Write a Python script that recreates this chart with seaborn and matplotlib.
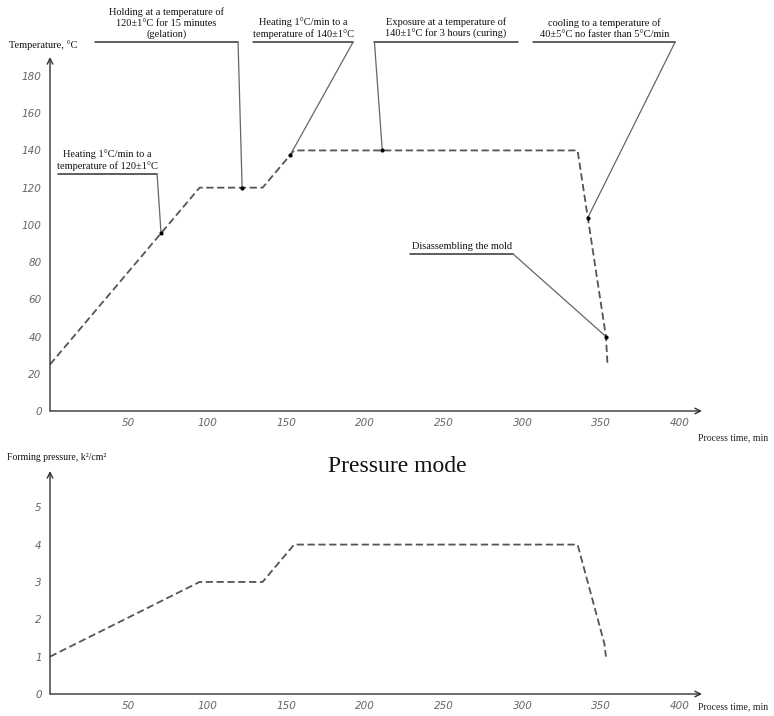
import numpy as np
import pandas as pd
import seaborn as sns
import matplotlib.pyplot as plt

# Temperature mode (time in min, temperature in degC)
temp_time = [0, 95, 135, 155, 335, 353, 354]
temp_vals = [25, 120, 120, 140, 140, 40, 25]

# Pressure mode (time in min, pressure)
pres_time = [0, 95, 135, 155, 335, 352, 353]
pres_vals = [1, 3, 3, 4, 4, 1.35, 1]

x_ticks = [50, 100, 150, 200, 250, 300, 350, 400]
temp_ticks = [0, 20, 40, 60, 80, 100, 120, 140, 160, 180]
pres_ticks = [0, 1, 2, 3, 4, 5]

# callouts: text, underline from x0 to x1 (min) at level y, leader to curve at time t
notes = [
    ("Holding at a temperature of\n120±1°C for 15 minutes\n(gelation)", 28.6, 119.4, 198.3, 122, "right"),
    ("Heating 1°C/min to a\ntemperature of 140±1°C", 129, 192.5, 198.3, 152.5, "right"),
    ("Exposure at a temperature of\n140±1°C for 3 hours (curing)", 206, 297, 198.3, 211, "left"),
    ("cooling to a temperature of\n40±5°C no faster than 5°C/min", 307, 397, 198.3, 341.5, "right"),
    ("Disassembling the mold", 228.7, 294, 84.4, 353, "right"),
    ("Heating 1°C/min to a\ntemperature of 120±1°C", 5, 68, 127.4, 70.5, "right"),
]

sns.set_style("white")
plt.rcParams['font.family'] = ['Liberation Serif', 'DejaVu Serif']

tick_font = dict(family=['Liberation Sans Narrow', 'DejaVu Sans'], style='italic', size=7.5, color='#666666')
line_col = '#555555'
axis_col = '#333333'

df_t = pd.DataFrame({'time': temp_time, 'temp': temp_vals})
df_p = pd.DataFrame({'time': pres_time, 'pres': pres_vals})

fig = plt.figure(figsize=(7.74, 7.16), dpi=100)
ax1 = fig.add_axes([50/774, (716-411)/716, 652/774, 354/716])
ax2 = fig.add_axes([50/774, (716-694)/716, 652/774, 223/716])


def style_axis(ax, xlim, ylim, yticks, xlabel_off):
    ax.set_xlim(*xlim)
    ax.set_ylim(*ylim)
    for s in ax.spines.values():
        s.set_visible(False)
    ax.annotate('', xy=(1, 0), xytext=(0, 0), xycoords='axes fraction',
                arrowprops=dict(arrowstyle='->', color=axis_col, lw=1.0, shrinkA=0, shrinkB=0))
    ax.annotate('', xy=(0, 1), xytext=(0, 0), xycoords='axes fraction',
                arrowprops=dict(arrowstyle='->', color=axis_col, lw=1.0, shrinkA=0, shrinkB=0))
    ax.set_xticks(x_ticks)
    ax.set_yticks(yticks)
    ax.set_xticklabels([str(v) for v in x_ticks], fontdict=tick_font)
    ax.set_yticklabels([str(v) for v in yticks], fontdict=tick_font)
    ax.tick_params(axis='x', direction='out', length=5, width=0.8, color=axis_col, pad=0)
    ax.tick_params(axis='y', direction='out', length=5, width=0.8, color=axis_col, pad=1)
    ax.set_xlabel('')
    ax.set_ylabel('')
    ax.grid(False)
    ax.annotate('Process time, min', xy=(0.994, 0), xycoords='axes fraction',
                xytext=(0, xlabel_off), textcoords='offset points',
                ha='left', va='center', fontsize=7, color='#222222', annotation_clip=False)


# temperature chart
sns.lineplot(data=df_t, x='time', y='temp', ax=ax1, color=line_col, lw=1.3,
             estimator=None, sort=False, dashes=False)
ax1.lines[-1].set_dashes((4, 2))
style_axis(ax1, (0, 414), (0, 190.2), temp_ticks, -19)

for text, x0, x1, y, t, side in notes:
    ty = np.interp(t, temp_time, temp_vals)
    xe = x1 if side == "right" else x0
    ax1.plot([x0, x1], [y, y], color='#333333', lw=1.1, clip_on=False)
    ax1.plot([xe, t], [y, ty], color='#666666', lw=0.9, clip_on=False)
    ax1.plot([t], [ty], 'o', color='black', ms=2, clip_on=False)
    ax1.annotate(text, xy=((x0 + x1) / 2, y), xytext=(0, 2), textcoords='offset points',
                 ha='center', va='bottom', multialignment='center', fontsize=7.5,
                 linespacing=1.25, color='#111111', annotation_clip=False)

# pressure chart
sns.lineplot(data=df_p, x='time', y='pres', ax=ax2, color=line_col, lw=1.3,
             estimator=None, sort=False, dashes=False)
ax2.lines[-1].set_dashes((4, 2))
style_axis(ax2, (0, 414), (0, 5.97), pres_ticks, -9)

fig.text(9/774, 1 - 45/716, 'Temperature, °C', fontsize=7.5, va='center', ha='left', color='#111111')
fig.text(7/774, 1 - 457/716, 'Forming pressure, k²/cm²', fontsize=7, va='center', ha='left', color='#111111')
fig.text(397/774, 1 - 466/716, 'Pressure mode', fontsize=17, va='center', ha='center', color='#111111')

fig.savefig('out.png', dpi=100)
